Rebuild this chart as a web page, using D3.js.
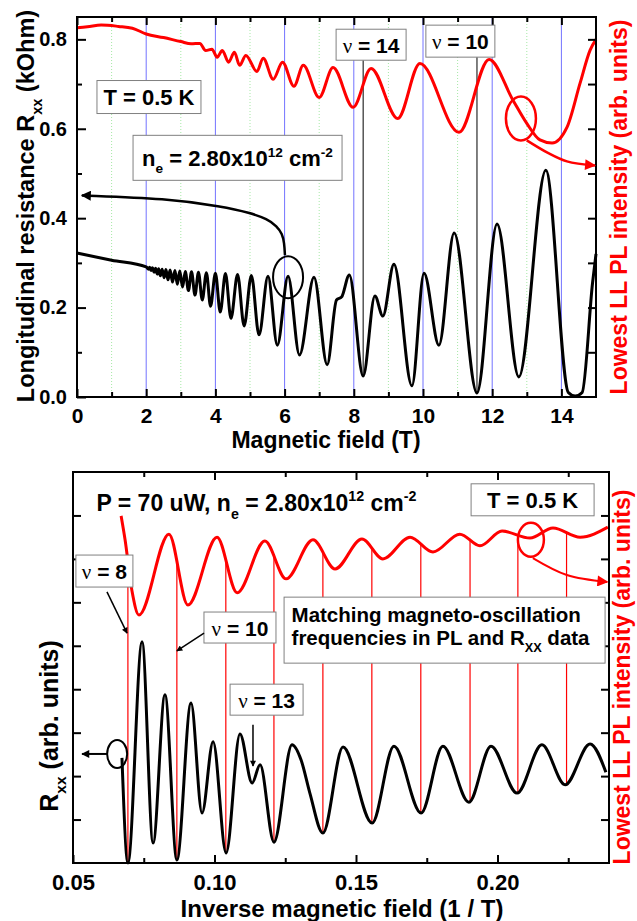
<!DOCTYPE html>
<html>
<head>
<meta charset="utf-8">
<script src="https://cdn.jsdelivr.net/npm/d3@7"></script>
<style>
  body { margin: 0; background: #fff; }
  svg text { font-family: "Liberation Sans", Arial, Helvetica, sans-serif; font-weight: bold; }
</style>
</head>
<body>
<svg id="chart" width="637" height="921"></svg>
<script>
// ---------- upper panel: Rxx and PL vs magnetic field ----------
// Rxx trace (kOhm), extrema
const rxxField = [0, 1.0, 2.0, 2.07, 2.10, 2.14, 2.18, 2.23, 2.27, 2.32, 2.36, 2.41, 2.46, 2.52, 2.57, 2.63, 2.69,
  2.76, 2.83, 2.90, 2.97, 3.05, 3.13, 3.22, 3.31, 3.41, 3.51, 3.62, 3.74, 3.86, 4.00, 4.14, 4.29, 4.45, 4.64, 4.83,
  5.04, 5.26, 5.52, 5.79, 6.10, 6.43, 6.85, 7.23, 7.50, 7.65, 7.87, 8.27, 8.61, 8.84, 9.16, 9.68, 10.03, 10.46,
  10.90, 11.56, 12.14, 12.77, 13.55, 14.20, 14.40, 14.60, 14.90, 15.0];
const rxxValue = [0.322, 0.306, 0.291, 0.286, 0.290, 0.283, 0.289, 0.279, 0.288, 0.275, 0.287, 0.271, 0.286, 0.267,
  0.285, 0.262, 0.284, 0.257, 0.283, 0.252, 0.282, 0.246, 0.281, 0.238, 0.280, 0.228, 0.279, 0.217, 0.278, 0.203,
  0.277, 0.190, 0.276, 0.176, 0.274, 0.159, 0.272, 0.139, 0.270, 0.116, 0.270, 0.094, 0.268, 0.072, 0.217, 0.224,
  0.273, 0.047, 0.226, 0.181, 0.297, 0.025, 0.277, 0.116, 0.367, 0.009, 0.387, 0.045, 0.507, 0.010, 0.002, 0.010,
  0.255, 0.320];
// lowest LL PL intensity (arb. units, drawn on the same frame height)
const plField = [0, 0.3, 0.7, 1.2, 1.6, 2.0, 2.5, 3.0, 3.3, 3.55, 3.72, 3.9, 4.05, 4.2, 4.38, 4.55, 4.7, 4.88,
  5.2, 5.38, 5.67, 5.94, 6.27, 6.54, 7.0, 7.4, 7.98, 8.5, 9.27, 9.91, 11.04, 11.91, 12.6, 13.0, 13.38, 13.73,
  14.16, 14.54, 14.83, 15.0];
const plValue = [0.826, 0.828, 0.832, 0.829, 0.825, 0.812, 0.804, 0.795, 0.790, 0.791, 0.775, 0.778, 0.760, 0.775,
  0.749, 0.771, 0.742, 0.764, 0.728, 0.758, 0.711, 0.749, 0.695, 0.742, 0.670, 0.737, 0.648, 0.735, 0.623, 0.746,
  0.592, 0.755, 0.664, 0.612, 0.575, 0.568, 0.603, 0.702, 0.776, 0.800];
const fieldMajor = [0, 2, 4, 6, 8, 10, 12, 14];
const fieldMinor = [1, 3, 5, 7, 9, 11, 13];
const rxxMajor = [0, 0.2, 0.4, 0.6, 0.8];
const rxxMinor = [0.1, 0.3, 0.5, 0.7];
const plTicks = [0.1, 0.2, 0.3, 0.4, 0.5, 0.6, 0.7, 0.8];
const nuLabels = ["14", "10"];
const nuField = [8.27, 11.56];
const nuRxx = [0.047, 0.009];

// ---------- lower panel: Rxx and PL vs inverse field ----------
const invField = [0.0673, 0.0694, 0.0744, 0.0783, 0.0825, 0.0867, 0.0917, 0.0956, 0.0995, 0.1041, 0.1090, 0.1133,
  0.1161, 0.1210, 0.1274, 0.1306, 0.1337, 0.1383, 0.1454, 0.1557, 0.1634, 0.1730, 0.1807, 0.1899, 0.1977, 0.2069,
  0.2157, 0.2239, 0.2327, 0.2383];
const invRxx = [2.42, 0.0, 5.09, 0.46, 3.87, 0.07, 3.68, 1.15, 2.79, 0.23, 2.97, 1.84, 2.26, 0.48, 2.72, 2.37,
  1.61, 0.69, 2.67, 0.92, 2.69, 1.15, 2.69, 1.40, 2.69, 1.61, 2.72, 1.80, 2.74, 2.09];
const invPlField = [0.0670, 0.0684, 0.0708, 0.0733, 0.0839, 0.0906, 0.1009, 0.1080, 0.1178, 0.1253, 0.1348, 0.1426,
  0.1521, 0.1595, 0.1691, 0.1772, 0.1867, 0.1938, 0.2016, 0.2115, 0.2196, 0.2292, 0.2390];
const invPl = [7.99, 7.44, 6.28, 5.71, 7.57, 5.94, 7.50, 6.22, 7.41, 6.54, 7.44, 6.77, 7.46, 7.00, 7.50, 7.16,
  7.57, 7.30, 7.64, 7.48, 7.71, 7.50, 7.73];
const invMajor = [0.05, 0.10, 0.15, 0.20];
const invMinor = [0.075, 0.125, 0.175, 0.225];
const armTicks = [1, 2, 3, 4, 5, 6, 7, 8];
// matching minima (even filling factors 8..26)
const matchField = [0.0694, 0.0867, 0.1040, 0.1210, 0.1383, 0.1556, 0.1729, 0.1903, 0.2072, 0.2244];
const matchRxx = [0.0, 0.07, 0.23, 0.48, 0.69, 0.92, 1.15, 1.40, 1.61, 1.80];

const svg = d3.select("#chart");
const RED = "#ff0000";

// arrow heads
const defs = svg.append("defs");
function addHead(id, color, w, h) {
  defs.append("marker").attr("id", id)
    .attr("viewBox", "0 0 10 10").attr("refX", 9).attr("refY", 5)
    .attr("markerUnits", "userSpaceOnUse")
    .attr("markerWidth", w).attr("markerHeight", h)
    .attr("orient", "auto")
    .append("path").attr("d", "M0,0L10,5L0,10Z").attr("fill", color);
}
addHead("headBlack", "#000", 15, 10);
addHead("headRed", RED, 16, 11);
addHead("headThin", "#000", 9, 6);
addHead("headMid", "#000", 12, 8);

// text with sub / superscripts, parts = [[string, kind]]
function rich(g, x, y, size, parts, anchor) {
  const t = g.append("text").attr("x", x).attr("y", y)
    .attr("font-size", size).attr("text-anchor", anchor || "start");
  let shift = 0;
  parts.forEach(function(p) {
    const kind = p[1] || "";
    const target = kind === "sub" ? size * 0.33 : kind === "sup" ? -size * 0.42 : 0;
    const ts = t.append("tspan").attr("dy", target - shift).text(p[0]);
    if (kind === "sub" || kind === "sup") ts.attr("font-size", size * 0.62);
    if (kind === "nu") ts.style("font-family", "'Liberation Serif', 'DejaVu Serif', serif").style("font-weight", "normal");
    shift = target;
  });
  return t;
}

function box(g, cx, cy, w, h) {
  g.append("rect").attr("x", cx - w / 2).attr("y", cy - h / 2)
    .attr("width", w).attr("height", h)
    .attr("fill", "#fff").attr("stroke", "#808080").attr("stroke-width", 1);
}

function tidy(axisG, size) {
  axisG.select(".domain").remove();
  axisG.selectAll("line").attr("stroke", "#000").attr("stroke-width", 2);
  axisG.attr("font-size", size || 20).attr("font-family", null);
  axisG.selectAll("text").attr("fill", "#000");
}

// ================= upper panel =================
const x1 = d3.scaleLinear().domain([0, 15]).range([77, 596]);
const y1 = d3.scaleLinear().domain([0, 0.85]).range([397, 17]);
const g1 = svg.append("g");

// vertical guide lines
g1.selectAll(".gridMajor").data(fieldMajor.filter(d => d > 0)).enter()
  .append("line")
  .attr("x1", d => x1(d)).attr("x2", d => x1(d))
  .attr("y1", y1.range()[0]).attr("y2", y1.range()[1])
  .attr("stroke", "#7373ff").attr("stroke-width", 1);
g1.selectAll(".gridMinor").data(fieldMinor).enter()
  .append("line")
  .attr("x1", d => x1(d)).attr("x2", d => x1(d))
  .attr("y1", y1.range()[0]).attr("y2", y1.range()[1])
  .attr("stroke", "#a6e8a6").attr("stroke-width", 1).attr("stroke-dasharray", "1,2");

// annotation boxes positions (data space)
const nuBoxTop = [{cx: 8.50, cy: 0.788, w: 70, h: 31}, {cx: 11.08, cy: 0.796, w: 69, h: 32}];

// nu marker lines from label box down to the minimum
g1.selectAll(".nuLine").data(nuField).enter()
  .append("line")
  .attr("x1", d => x1(d)).attr("x2", d => x1(d))
  .attr("y1", (d, i) => y1(nuBoxTop[i].cy) + nuBoxTop[i].h / 2)
  .attr("y2", (d, i) => y1(nuRxx[i]))
  .attr("stroke", "#000").attr("stroke-width", 1);

const line1 = d3.line().x(d => x1(d[0])).y(d => y1(d[1])).curve(d3.curveMonotoneX);
g1.append("path").datum(d3.zip(plField, plValue)).attr("d", line1)
  .attr("fill", "none").attr("stroke", RED).attr("stroke-width", 3).attr("stroke-linejoin", "round");
g1.append("path").datum(d3.zip(rxxField, rxxValue)).attr("d", line1)
  .attr("fill", "none").attr("stroke", "#000").attr("stroke-width", 3).attr("stroke-linejoin", "round");

// frame and axes
g1.append("rect").attr("x", 77).attr("y", 17).attr("width", 596 - 77).attr("height", 397 - 17)
  .attr("fill", "none").attr("stroke", "#000").attr("stroke-width", 2);

tidy(g1.append("g").attr("transform", "translate(0,397)")
  .call(d3.axisBottom(x1).tickValues(fieldMajor).tickSizeInner(-8).tickSizeOuter(0).tickPadding(11)), 21);
tidy(g1.append("g").attr("transform", "translate(0,397)")
  .call(d3.axisBottom(x1).tickValues(fieldMinor).tickSize(-5).tickFormat("")));
tidy(g1.append("g").attr("transform", "translate(0,17)")
  .call(d3.axisTop(x1).tickValues(fieldMajor).tickSize(-8).tickFormat("")));
tidy(g1.append("g").attr("transform", "translate(0,17)")
  .call(d3.axisTop(x1).tickValues(fieldMinor).tickSize(-5).tickFormat("")));
tidy(g1.append("g").attr("transform", "translate(77,0)")
  .call(d3.axisLeft(y1).tickValues(rxxMajor).tickSizeInner(-9).tickSizeOuter(0).tickPadding(10).tickFormat(d3.format(".1f"))), 20);
tidy(g1.append("g").attr("transform", "translate(77,0)")
  .call(d3.axisLeft(y1).tickValues(rxxMinor).tickSize(-5).tickFormat("")));
tidy(g1.append("g").attr("transform", "translate(596,0)")
  .call(d3.axisRight(y1).tickValues(plTicks).tickSize(-8).tickFormat("")));

// axis titles
rich(g1, 326, 448, 23, [["Magnetic field (T)"]], "middle");
rich(g1.append("g").attr("transform", "translate(34,206) rotate(-90)"), 0, 0, 23.5,
  [["Longitudinal resistance R"], ["xx", "sub"], [" (kOhm)"]], "middle");
rich(g1.append("g").attr("transform", "translate(627,207) rotate(-90)"), 0, 0, 23,
  [["Lowest LL PL intensity (arb. units)"]], "middle").attr("fill", RED);

// annotations
box(g1, x1(2.08), y1(0.671), 104, 33);
rich(g1, x1(2.08), y1(0.671) + 8, 22, [["T = 0.5 K"]], "middle");
box(g1, x1(4.64), y1(0.535), 209, 45);
rich(g1, x1(4.64), y1(0.535) + 8, 22,
  [["n"], ["e", "sub"], [" = 2.80x10"], ["12", "sup"], [" cm"], ["-2", "sup"]], "middle");
nuBoxTop.forEach(function(b, i) {
  box(g1, x1(b.cx), y1(b.cy), b.w, b.h);
  rich(g1, x1(b.cx), y1(b.cy) + 8, 21, [["ν", "nu"], [" = " + nuLabels[i]]], "middle");
});

// circles and arrows pointing to the axes
const curve1 = d3.line().x(d => x1(d[0])).y(d => y1(d[1])).curve(d3.curveBasis);
g1.append("ellipse").attr("cx", x1(6.10)).attr("cy", y1(0.268)).attr("rx", 15).attr("ry", 21)
  .attr("fill", "none").attr("stroke", "#000").attr("stroke-width", 2);
g1.append("path")
  .datum([[6.01, 0.317], [5.99, 0.345], [5.93, 0.365], [5.78, 0.382], [5.50, 0.398], [5.00, 0.412],
    [4.20, 0.426], [2.60, 0.444], [0.14, 0.451]])
  .attr("d", curve1).attr("fill", "none").attr("stroke", "#000").attr("stroke-width", 2.5)
  .attr("marker-end", "url(#headBlack)");
g1.append("ellipse").attr("cx", x1(12.83)).attr("cy", y1(0.623)).attr("rx", 15).attr("ry", 22)
  .attr("fill", "none").attr("stroke", RED).attr("stroke-width", 2.5);
g1.append("path")
  .datum([[13.0, 0.574], [13.61, 0.546], [14.16, 0.527], [14.97, 0.518]])
  .attr("d", d3.line().x(d => x1(d[0])).y(d => y1(d[1])).curve(d3.curveCatmullRom))
  .attr("fill", "none").attr("stroke", RED).attr("stroke-width", 2.5)
  .attr("marker-end", "url(#headRed)");

// ================= lower panel =================
const x2 = d3.scaleLinear().domain([0.05, 0.2394]).range([73, 609]);
const y2 = d3.scaleLinear().domain([0, 9]).range([863, 472]);
const g2 = svg.append("g");

const line2 = d3.line().x(d => x2(d[0])).y(d => y2(d[1])).curve(d3.curveMonotoneX);
const plPath = g2.append("path").datum(d3.zip(invPlField, invPl)).attr("d", line2)
  .attr("fill", "none").attr("stroke", RED).attr("stroke-width", 3).attr("stroke-linejoin", "round");

// find where the PL curve crosses each matching line
const plNode = plPath.node();
const plLen = plNode.getTotalLength();
const plSamples = d3.range(0, plLen, 0.5).map(l => plNode.getPointAtLength(l));
function plYAt(px) {
  let best = plSamples[0];
  plSamples.forEach(p => { if (Math.abs(p.x - px) < Math.abs(best.x - px)) best = p; });
  return best.y;
}

g2.selectAll(".match").data(matchField).enter()
  .append("line")
  .attr("x1", d => x2(d)).attr("x2", d => x2(d))
  .attr("y1", d => plYAt(x2(d)))
  .attr("y2", (d, i) => y2(matchRxx[i]))
  .attr("stroke", RED).attr("stroke-width", 1.2);

g2.append("path").datum(d3.zip(invField, invRxx)).attr("d", line2)
  .attr("fill", "none").attr("stroke", "#000").attr("stroke-width", 3).attr("stroke-linejoin", "round");

g2.append("rect").attr("x", 73).attr("y", 472).attr("width", 609 - 73).attr("height", 863 - 472)
  .attr("fill", "none").attr("stroke", "#000").attr("stroke-width", 2);

tidy(g2.append("g").attr("transform", "translate(0,863)")
  .call(d3.axisBottom(x2).tickValues(invMajor).tickSizeInner(-8).tickSizeOuter(0).tickPadding(11)
    .tickFormat(d3.format(".2f"))), 22);
tidy(g2.append("g").attr("transform", "translate(0,863)")
  .call(d3.axisBottom(x2).tickValues(invMinor).tickSize(-5).tickFormat("")));
tidy(g2.append("g").attr("transform", "translate(0,472)")
  .call(d3.axisTop(x2).tickValues(invMajor.slice(1)).tickSize(-8).tickFormat("")));
tidy(g2.append("g").attr("transform", "translate(0,472)")
  .call(d3.axisTop(x2).tickValues(invMinor).tickSize(-5).tickFormat("")));
tidy(g2.append("g").attr("transform", "translate(73,0)")
  .call(d3.axisLeft(y2).tickValues(armTicks).tickSize(-8).tickFormat("")));
tidy(g2.append("g").attr("transform", "translate(609,0)")
  .call(d3.axisRight(y2).tickValues(armTicks).tickSize(-8).tickFormat("")));

rich(g2, 342, 917, 24, [["Inverse magnetic field (1 / T)"]], "middle");
rich(g2.append("g").attr("transform", "translate(58,726) rotate(-90)"), 0, 0, 25,
  [["R"], ["xx", "sub"], [" (arb. units)"]], "middle");
rich(g2.append("g").attr("transform", "translate(630,677) rotate(-90)"), 0, 0, 23,
  [["Lowest LL PL intensity (arb. units)"]], "middle").attr("fill", RED);

// annotations
rich(g2, x2(0.0583), y2(8.10), 23,
  [["P = 70 uW, n"], ["e", "sub"], [" = 2.80x10"], ["12", "sup"], [" cm"], ["-2", "sup"]]);
box(g2, x2(0.2124), y2(8.36), 123, 32);
rich(g2, x2(0.2124), y2(8.36) + 8, 22, [["T = 0.5 K"]], "middle");

const lowBoxes = [
  {cx: 0.0611, cy: 6.72, w: 57, h: 32, nu: "8"},
  {cx: 0.1090, cy: 5.42, w: 72, h: 31, nu: "10"},
  {cx: 0.1184, cy: 3.76, w: 73, h: 31, nu: "13"}
];
lowBoxes.forEach(function(b) {
  box(g2, x2(b.cx), y2(b.cy), b.w, b.h);
  rich(g2, x2(b.cx), y2(b.cy) + 8, 21, [["ν", "nu"], [" = " + b.nu]], "middle");
});

box(g2, x2(0.1813), y2(5.36), 321, 66);
rich(g2, x2(0.1813) - 153, y2(5.36) - 8, 20.5, [["Matching magneto-oscillation"]]);
rich(g2, x2(0.1813) - 153, y2(5.36) + 15, 20.5, [["frequencies in PL and R"], ["XX", "sub"], [" data"]]);

const straight2 = d3.line().x(d => x2(d[0])).y(d => y2(d[1]));
[[[0.0620, 6.24], [0.0691, 5.29]], [[0.0963, 5.29], [0.0867, 4.88]], [[0.1136, 3.18], [0.1136, 2.23]]]
  .forEach(function(seg) {
    g2.append("path").datum(seg).attr("d", straight2)
      .attr("fill", "none").attr("stroke", "#000").attr("stroke-width", 1.5)
      .attr("marker-end", "url(#headThin)");
  });

g2.append("ellipse").attr("cx", x2(0.0656)).attr("cy", y2(2.51)).attr("rx", 10).attr("ry", 14)
  .attr("fill", "none").attr("stroke", "#000").attr("stroke-width", 2);
g2.append("path").datum([[0.0620, 2.51], [0.0532, 2.51]]).attr("d", straight2)
  .attr("fill", "none").attr("stroke", "#000").attr("stroke-width", 2)
  .attr("marker-end", "url(#headMid)");

const curve2 = d3.line().x(d => x2(d[0])).y(d => y2(d[1])).curve(d3.curveCatmullRom);
g2.append("ellipse").attr("cx", x2(0.2118)).attr("cy", y2(7.44)).attr("rx", 13).attr("ry", 17)
  .attr("fill", "none").attr("stroke", RED).attr("stroke-width", 2.5);
g2.append("path").datum([[0.2125, 7.02], [0.2245, 6.63], [0.2388, 6.47]]).attr("d", curve2)
  .attr("fill", "none").attr("stroke", RED).attr("stroke-width", 2)
  .attr("marker-end", "url(#headRed)");
</script>
</body>
</html>
